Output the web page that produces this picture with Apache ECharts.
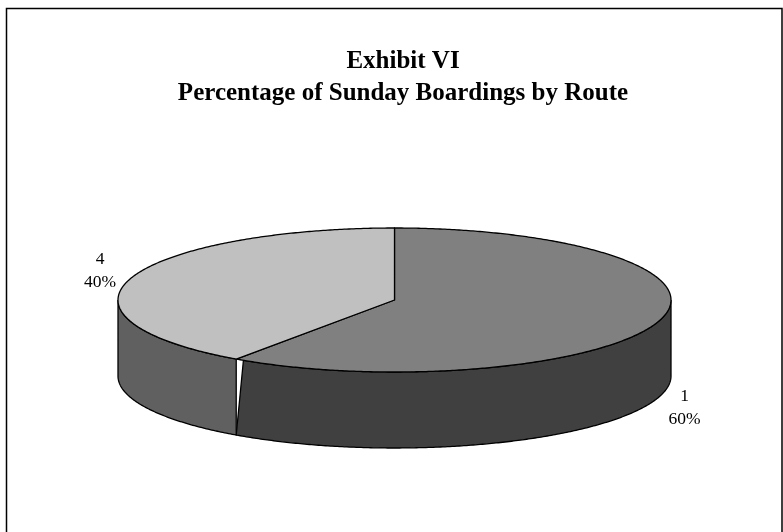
<!DOCTYPE html>
<html>
<head>
<meta charset="utf-8">
<style>
  html, body { margin: 0; padding: 0; background: #fff; }
  #chart { width: 783px; height: 532px; }
</style>
</head>
<body>
<div id="chart"></div>
<script src="https://cdn.jsdelivr.net/npm/echarts@6/dist/echarts.min.js"></script>
<script>
// values
const routes = ['1', '4']
const shares = [59.7, 40.3]
const topColors = ['#808080', '#c0c0c0']
const sideColors = ['#404040', '#606060']

const fontFamily = '"Liberation Serif", "Times New Roman", serif'
const pie = { cx: 394.5, cy: 300, rx: 276.5, ry: 72, depth: 76 }
// the original has a small white sliver where route 1's side wall starts
const sideGap = [1.8, 0]
const labelPos = [[684.5, 408], [100, 271]]

const total = shares.reduce((a, b) => a + b, 0)

function rimPoint (deg, drop) {
  const r = deg * Math.PI / 180
  return [pie.cx + pie.rx * Math.sin(r), pie.cy - pie.ry * Math.cos(r) + drop]
}

function arc (from, to, drop) {
  const pts = []
  const n = Math.max(2, Math.ceil(Math.abs(to - from) * 2))
  for (let i = 0; i <= n; i++) {
    pts.push(rimPoint(from + (to - from) * i / n, drop))
  }
  return pts
}

function renderSlice (params, api) {
  const i = params.dataIndex
  const before = shares.slice(0, i).reduce((a, b) => a + b, 0)
  const start = before / total * 360
  const end = start + api.value(1) / total * 360
  const children = []

  // only the front half of the rim shows a wall
  const sideStart = Math.max(start, 90)
  const sideEnd = Math.min(end, 270)
  if (sideEnd > sideStart) {
    children.push({
      type: 'polygon',
      shape: {
        points: arc(sideStart, sideEnd - sideGap[i], 0)
          .concat(arc(sideEnd, sideStart, pie.depth))
      },
      style: { fill: sideColors[i], stroke: '#000', lineWidth: 1.3 }
    })
  }

  children.push({
    type: 'polygon',
    shape: { points: [[pie.cx, pie.cy]].concat(arc(start, end, 0)) },
    style: { fill: topColors[i], stroke: '#000', lineWidth: 1.3, lineJoin: 'round' }
  })

  children.push({
    type: 'text',
    x: labelPos[i][0],
    y: labelPos[i][1],
    style: {
      text: routes[i] + '\n' + Math.round(api.value(1) / total * 100) + '%',
      font: '17.5px ' + fontFamily,
      lineHeight: 23,
      fill: '#000',
      align: 'center',
      verticalAlign: 'middle'
    }
  })

  return { type: 'group', children }
}

const chart = echarts.init(document.getElementById('chart'), null, { renderer: 'canvas' })
chart.setOption({
  animation: false,
  backgroundColor: '#fff',
  title: {
    text: 'Exhibit VI\nPercentage of Sunday Boardings by Route',
    left: 398,
    top: 41,
    textAlign: 'center',
    textStyle: {
      fontFamily,
      fontSize: 25,
      fontWeight: 'bold',
      lineHeight: 32,
      color: '#000'
    }
  },
  graphic: [{
    type: 'rect',
    shape: { x: 6.5, y: 8.5, width: 775.5, height: 540 },
    style: { fill: 'none', stroke: '#000', lineWidth: 1.5 },
    silent: true
  }],
  series: [{
    type: 'custom',
    coordinateSystem: 'none',
    silent: true,
    data: routes.map((r, i) => [r, shares[i]]),
    renderItem: renderSlice
  }]
})
</script>
</body>
</html>
